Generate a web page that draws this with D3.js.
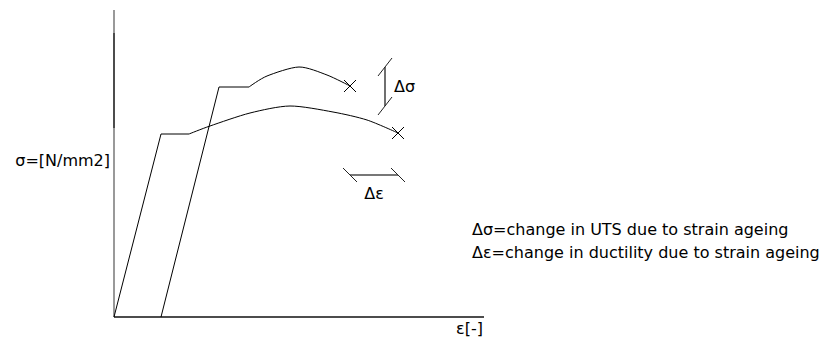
<!DOCTYPE html>
<html>
<head>
<meta charset="utf-8">
<script src="https://cdn.jsdelivr.net/npm/d3@7"></script>
<style>
  html, body { margin: 0; padding: 0; background: #fff; }
  svg { display: block; font-family: "DejaVu Sans", Verdana, sans-serif; }
</style>
</head>
<body>
<svg id="chart" width="820" height="344"></svg>
<script>
// Stress–strain curves (strain ε, stress σ in arbitrary units)
const originalElastic = [[0, 0], [4.7, 18.3], [7.5, 18.3]];
const originalHardening = [[7.5, 18.3], [9.6, 19.1], [13.6, 20.4], [17.6, 21.1], [21.9, 20.5], [25.3, 19.7], [28.4, 18.4]];
const agedElastic = [[4.7, 0], [10.5, 23.0], [13.5, 23.0]];
const agedHardening = [[13.5, 23.0], [15.3, 24.1], [18.5, 25.0], [21.3, 24.2], [23.6, 23.1]];

// Fracture points (end of each curve)
const fracturePoints = [[23.6, 23.1], [28.4, 18.4]];

// Dimension markers
const deltaSigma = { strain: 27.1, from: 25.0, to: 21.1 };
const deltaEps = { stress: 14.2, from: 23.6, to: 28.4 };

const axisLabels = { y: "σ=[N/mm2]", x: "ε[-]" };
const legendLines = [
  "Δσ=change in UTS due to strain ageing",
  "Δε=change in ductility due to strain ageing"
];

const svg = d3.select("#chart");
const x = d3.scaleLinear().domain([0, 36]).range([114, 474]);
const y = d3.scaleLinear().domain([0, 31]).range([317, 7]);

// Axes
svg.append("line")
  .attr("x1", x(0)).attr("x2", x(0))
  .attr("y1", y(30.7)).attr("y2", y(0))
  .attr("stroke", "#777").attr("stroke-width", 1.5);
svg.append("line")
  .attr("x1", x(0)).attr("x2", x(0))
  .attr("y1", y(28.4)).attr("y2", y(18.9))
  .attr("stroke", "#333").attr("stroke-width", 1.5);
svg.append("line")
  .attr("x1", x(0)).attr("x2", x(37))
  .attr("y1", y(0)).attr("y2", y(0))
  .attr("stroke", "#111").attr("stroke-width", 1.5);

const straight = d3.line().x(d => x(d[0])).y(d => y(d[1]));
const smooth = d3.line().x(d => x(d[0])).y(d => y(d[1])).curve(d3.curveCardinal.tension(0.2));

[originalElastic, agedElastic].forEach(seg => {
  svg.append("path").attr("d", straight(seg))
    .attr("fill", "none").attr("stroke", "#000").attr("stroke-width", 1);
});
[originalHardening, agedHardening].forEach(seg => {
  svg.append("path").attr("d", smooth(seg))
    .attr("fill", "none").attr("stroke", "#000").attr("stroke-width", 1);
});

// Fracture crosses
fracturePoints.forEach(p => {
  const cx = x(p[0]), cy = y(p[1]), r = 6;
  svg.append("path")
    .attr("d", `M${cx - r},${cy - r}L${cx + r},${cy + r}M${cx - r},${cy + r}L${cx + r},${cy - r}`)
    .attr("stroke", "#000").attr("stroke-width", 1).attr("fill", "none");
});

// Δσ dimension (vertical)
{
  const sx = x(deltaSigma.strain);
  const y1 = y(deltaSigma.from), y2 = y(deltaSigma.to);
  svg.append("line").attr("x1", sx).attr("x2", sx).attr("y1", y1).attr("y2", y2)
    .attr("stroke", "#222").attr("stroke-width", 1.3);
  [y1, y2].forEach(ty => {
    svg.append("line")
      .attr("x1", sx - 7).attr("y1", ty + 9).attr("x2", sx + 7).attr("y2", ty - 9)
      .attr("stroke", "#222").attr("stroke-width", 1);
  });
  svg.append("text").attr("x", sx + 9).attr("y", (y1 + y2) / 2 + 5)
    .attr("font-size", 16).text("Δσ");
}

// Δε dimension (horizontal)
{
  const hy = y(deltaEps.stress);
  const x1 = x(deltaEps.from), x2 = x(deltaEps.to);
  svg.append("line").attr("x1", x1).attr("x2", x2).attr("y1", hy).attr("y2", hy)
    .attr("stroke", "#777").attr("stroke-width", 2);
  [x1, x2].forEach(tx => {
    svg.append("line")
      .attr("x1", tx - 7).attr("y1", hy - 7).attr("x2", tx + 7).attr("y2", hy + 7)
      .attr("stroke", "#222").attr("stroke-width", 1);
  });
  svg.append("text").attr("x", (x1 + x2) / 2).attr("y", hy + 24)
    .attr("text-anchor", "middle").attr("font-size", 16).text("Δε");
}

// Axis labels
svg.append("text").attr("x", 110).attr("y", 166)
  .attr("text-anchor", "end").attr("font-size", 16).text(axisLabels.y);
svg.append("text").attr("x", 456).attr("y", 334)
  .attr("font-size", 16).text(axisLabels.x);

// Legend
svg.selectAll("text.legend").data(legendLines).join("text")
  .attr("class", "legend")
  .attr("x", 472).attr("y", (d, i) => 235 + i * 23)
  .attr("font-size", 16).text(d => d);
</script>
</body>
</html>
